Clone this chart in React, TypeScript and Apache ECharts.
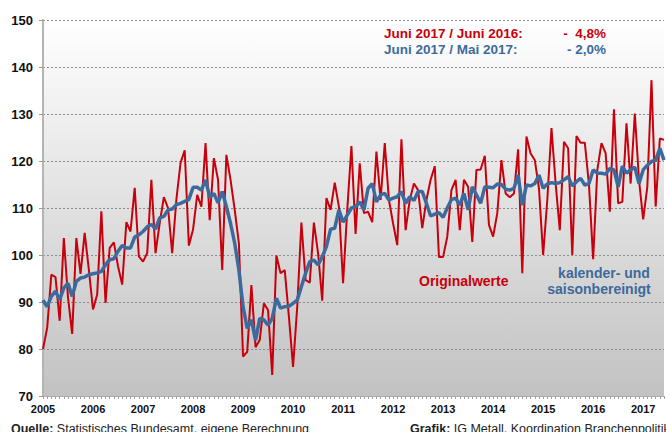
import React, { useEffect, useRef } from "react";
import * as echarts from "echarts";

// Years shown on the x axis (monthly data, Jan 2005 – Jun 2017)
const years = [2005, 2006, 2007, 2008, 2009, 2010, 2011, 2012, 2013, 2014, 2015, 2016, 2017];
const monthCount = 150;

// Originalwerte (red)
const original = [
  80, 84.5, 95.8, 95.3, 86, 103.6, 91, 83.2, 103.6, 96, 104.7, 96.9,
  88.4, 91.6, 109.3, 89.8, 101.5, 102.7, 97.6, 93.7, 107, 105, 114.3, 99.7,
  98.6, 100.4, 116, 100.4, 106.8, 112.3, 110, 100.4, 111.8, 119.6, 122.3, 102,
  105.4, 112.8, 110.3, 123.8, 107.4, 120.6, 116, 96.8, 121.3, 116, 109.6, 102.5,
  78.4, 79.4, 93.6, 80.4, 81.9, 89.7, 88.3, 74.5, 99.9, 96.1, 96.8, 86.9,
  76.2, 89, 106.9, 94.7, 94.1, 106.9, 100.4, 90.3, 112.1, 109.6, 115.4, 110.3,
  94, 109.6, 123.2, 104.5, 119.5, 108.9, 109.2, 107, 122, 111.7, 123.8, 111.7,
  106.7, 102.1, 124.6, 105.3, 111.7, 115.2, 113.8, 105.7, 111.7, 116, 118.9, 99.6,
  99.6, 103.9, 113.8, 116, 105.3, 116, 114.5, 102.8, 118.1, 118.2, 121.1, 106.4,
  103.9, 108.9, 120.2, 113.1, 112.3, 113.1, 122.5, 96.1, 125.2, 121.6, 120.2, 114.2,
  100, 111.7, 127, 115.2, 105.3, 124.1, 122.7, 100, 125.3, 123.9, 123.9, 114.9,
  99.1, 118.1, 123.8, 121.6, 109.2, 131, 111, 111.3, 128, 115.2, 130.1, 116,
  107.6, 114.5, 137.2, 110.3, 124.8, 124.5,
];

// kalender- und saisonbereinigt (blue)
const adjusted = [
  90.4, 89, 91.2, 92.3, 90.5, 93, 94, 91.2, 94.4, 95.1, 95.3, 95.8,
  96, 96.2, 96.5, 97.9, 99, 99.2, 100.8, 102, 101.5, 101.5, 103.8, 104.3,
  105, 106, 106.5, 105.5, 107.9, 108.2, 109.6, 109.8, 110.7, 111, 111.4, 111.8,
  114.4, 114.4, 113.8, 116, 112.3, 113.1, 111.1, 113.5, 110.3, 106.7, 102.5, 96.8,
  89, 84.4, 86.2, 81.9, 86.5, 86.2, 85.1, 86.5, 90.8, 88.7, 89, 89.1,
  89.7, 90.4, 93.3, 96.1, 98.6, 98.9, 97.9, 99.6, 101.8, 105.5, 105.7, 109.6,
  107, 108.5, 110, 110.3, 111.3, 109.6, 114.2, 115.2, 111.3, 112.8, 113.1, 111.7,
  112.1, 112.4, 113.5, 111, 112.4, 111.6, 113.5, 113.5, 111, 108.3, 108.7, 109,
  108, 110, 111.8, 112.1, 110.6, 113.1, 109.6, 114.5, 112.8, 111, 114.5, 114.4,
  114.3, 115.1, 115, 114, 113.8, 114.2, 117, 110.6, 114.9, 114.7, 115.2, 117,
  114.2, 115.1, 115.4, 115.2, 115.4, 116, 116.7, 114.7, 115.6, 116.3, 114.9, 115.2,
  118.1, 117.4, 117.4, 117.2, 118.4, 118.1, 114.5, 118.9, 117.4, 118.1, 118.7, 115.2,
  118.1, 119.1, 119.9, 120.2, 122.7, 120.2,
];

const yTicks = { min: 70, max: 150, interval: 10 };

const headerLines = [
  { label: "Juni 2017 / Juni 2016:", value: "-  4,8%", color: "#c8000b" },
  { label: "Juni 2017 / Mai 2017:", value: "- 2,0%", color: "#3d6a9c" },
];

const RED = "#c8000b";
const BLUE = "#3d6a9c";
const FONT = "Liberation Sans, Arial, sans-serif";

const categories: string[] = [];
years.forEach((y) => {
  for (let m = 1; m <= 12; m++) {
    if (categories.length < monthCount) categories.push(`${y}-${String(m).padStart(2, "0")}`);
  }
});

export default function App() {
  const ref = useRef<HTMLDivElement>(null);

  useEffect(() => {
    if (!ref.current) return;
    const chart = echarts.init(ref.current, undefined, { renderer: "svg" });

    const texts: any[] = [
      {
        type: "text",
        left: 8,
        top: -12,
        style: { text: "Index 2010 = 100", fill: "#333", fontSize: 14, fontFamily: FONT },
      },
    ];
    headerLines.forEach((h, i) => {
      texts.push({
        type: "text",
        x: 384,
        y: 33 + i * 16,
        style: {
          text: h.label,
          fill: h.color,
          fontSize: 13.5,
          fontWeight: "bold",
          fontFamily: FONT,
          align: "left",
          verticalAlign: "middle",
        },
      });
      texts.push({
        type: "text",
        x: 606,
        y: 33 + i * 16,
        style: {
          text: h.value,
          fill: h.color,
          fontSize: 13.5,
          fontWeight: "bold",
          fontFamily: FONT,
          align: "right",
          verticalAlign: "middle",
        },
      });
    });
    texts.push(
      {
        type: "text",
        x: 419,
        y: 281,
        style: {
          text: "Originalwerte",
          fill: RED,
          fontSize: 14,
          fontWeight: "bold",
          fontFamily: FONT,
          verticalAlign: "middle",
        },
      },
      {
        type: "text",
        x: 604,
        y: 273,
        style: {
          text: "kalender- und",
          fill: BLUE,
          fontSize: 14,
          fontWeight: "bold",
          fontFamily: FONT,
          align: "center",
          verticalAlign: "middle",
        },
      },
      {
        type: "text",
        x: 599,
        y: 289,
        style: {
          text: "saisonbereinigt",
          fill: BLUE,
          fontSize: 14,
          fontWeight: "bold",
          fontFamily: FONT,
          align: "center",
          verticalAlign: "middle",
        },
      },
      {
        type: "text",
        x: 11,
        y: 429,
        style: {
          text: "{b|Quelle:} Statistisches Bundesamt, eigene Berechnung",
          fill: "#222",
          fontSize: 12.5,
          fontFamily: FONT,
          verticalAlign: "middle",
          rich: { b: { fontWeight: "bold", fontSize: 12.5, fontFamily: FONT, fill: "#222" } },
        },
      },
      {
        type: "text",
        x: 410,
        y: 429,
        style: {
          text: "{b|Grafik:} IG Metall, Koordination Branchenpolitik",
          fill: "#222",
          fontSize: 12.5,
          fontFamily: FONT,
          verticalAlign: "middle",
          rich: { b: { fontWeight: "bold", fontSize: 12.5, fontFamily: FONT, fill: "#222" } },
        },
      }
    );

    chart.setOption({
      animation: false,
      backgroundColor: "#ffffff",
      grid: {
        left: 43,
        right: 2,
        top: 20,
        bottom: 36,
        show: true,
        borderWidth: 0,
        backgroundColor: new echarts.graphic.LinearGradient(0, 0, 0, 1, [
          { offset: 0, color: "#ffffff" },
          { offset: 1, color: "#c2c2c2" },
        ]),
      },
      xAxis: {
        type: "category",
        data: categories,
        boundaryGap: false,
        axisLine: { show: true, lineStyle: { color: "#b0b0b0", width: 1 } },
        axisTick: { show: true, interval: 0, length: 3, lineStyle: { color: "#a0a0a0" } },
        axisLabel: {
          interval: (i: number) => i % 12 === 0,
          formatter: (v: string) => v.slice(0, 4),
          fontWeight: "bold",
          fontSize: 11,
          color: "#111",
          margin: 7,
          fontFamily: FONT,
        },
        splitLine: { show: false },
      },
      yAxis: {
        type: "value",
        min: yTicks.min,
        max: yTicks.max,
        interval: yTicks.interval,
        axisLine: { show: true, lineStyle: { color: "#b4b4b4", width: 2 } },
        axisTick: { show: true, length: 4, lineStyle: { color: "#999" } },
        axisLabel: {
          fontWeight: "bold",
          fontSize: 13,
          color: "#111",
          margin: 10,
          fontFamily: FONT,
        },
        splitLine: { show: true, lineStyle: { type: [2, 2], color: "#8c8c8c", width: 1 } },
      },
      series: [
        {
          name: "Originalwerte",
          type: "line",
          data: original,
          symbol: "none",
          lineStyle: { color: RED, width: 2 },
          z: 2,
        },
        {
          name: "kalender- und saisonbereinigt",
          type: "line",
          data: adjusted,
          symbol: "none",
          lineStyle: { color: BLUE, width: 3.5 },
          z: 3,
        },
      ],
      graphic: texts,
    });

    return () => chart.dispose();
  }, []);

  return (
    <div
      ref={ref}
      style={{ position: "fixed", left: 0, top: 0, width: 666, height: 432 }}
    />
  );
}
